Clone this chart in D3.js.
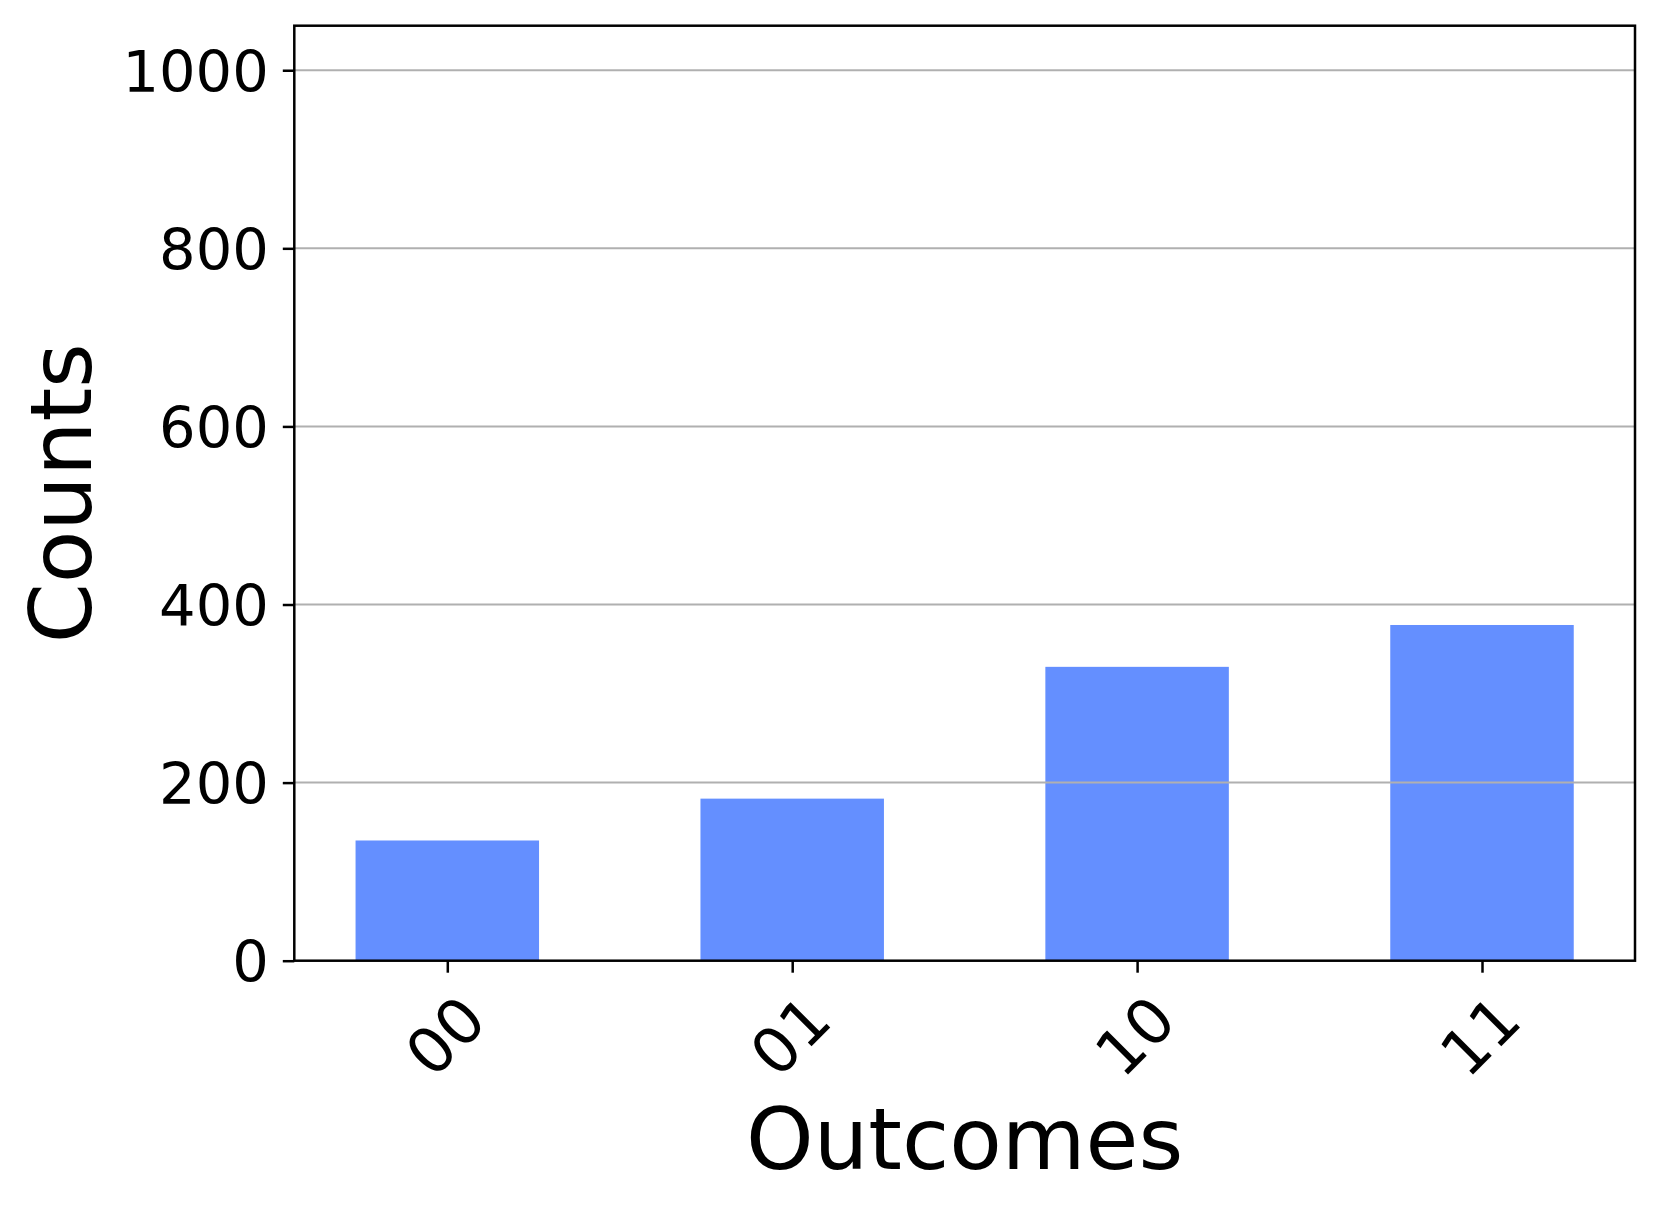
<!DOCTYPE html>
<html>
<head>
<meta charset="utf-8">
<script src="https://cdn.jsdelivr.net/npm/d3@7"></script>
<style>
  html, body { margin: 0; padding: 0; background: #fff; }
  svg { display: block; font-family: "DejaVu Sans", sans-serif; }
</style>
</head>
<body>
<svg id="chart" width="1661" height="1212"></svg>
<script>
const categories = ["00", "01", "10", "11"];
const counts = [135, 182, 330, 377];
const yTicks = [0, 200, 400, 600, 800, 1000];

const W = 1661, H = 1212;
const margin = { left: 294.3, right: W - 1635, top: 25.7, bottom: H - 960.7 };
const svg = d3.select("#chart");

const x = d3.scaleLinear()
  .domain([-0.4436, categories.length - 1 + 0.4436])
  .range([margin.left, W - margin.right]);
const y = d3.scaleLinear()
  .domain([0, 1050])
  .range([H - margin.bottom, margin.top]);
const barW = 0.532;
const yTickFont = 57.5;
const xTickFont = 63;

svg.append("rect").attr("width", W).attr("height", H).attr("fill", "#fff");

// bars
svg.append("g").selectAll("rect").data(counts).join("rect")
  .attr("x", (d, i) => x(i - barW / 2))
  .attr("width", (d, i) => x(i + barW / 2) - x(i - barW / 2))
  .attr("y", d => y(d))
  .attr("height", d => y(0) - y(d))
  .attr("fill", "#648fff");

// grid (drawn over bars)
svg.append("g").selectAll("line").data(yTicks.filter(t => t > 0)).join("line")
  .attr("x1", x.range()[0]).attr("x2", x.range()[1])
  .attr("y1", d => y(d)).attr("y2", d => y(d))
  .attr("stroke", "#b0b0b0").attr("stroke-width", 2);

// frame
svg.append("rect")
  .attr("x", x.range()[0]).attr("y", y.range()[1])
  .attr("width", x.range()[1] - x.range()[0])
  .attr("height", y.range()[0] - y.range()[1])
  .attr("fill", "none").attr("stroke", "#000").attr("stroke-width", 2.5);

// y axis
const yAxis = d3.axisLeft(y).tickValues(yTicks).tickSize(11.5).tickPadding(14)
  .tickFormat(d3.format("d"));
const gy = svg.append("g").attr("transform", `translate(${x.range()[0]},0)`).call(yAxis);
gy.select(".domain").remove();
gy.selectAll(".tick line").attr("stroke", "#000").attr("stroke-width", 2.5);
gy.selectAll(".tick text")
  .attr("font-family", "DejaVu Sans").attr("font-size", yTickFont)
  .attr("fill", "#000").attr("dy", "0.3645em");

// x axis
const labelCY = 1035.5 - y.range()[0];
const xAxis = d3.axisBottom(x).tickValues(d3.range(categories.length)).tickSize(12)
  .tickFormat(i => categories[i]);
const gx = svg.append("g").attr("transform", `translate(0,${y.range()[0]})`).call(xAxis);
gx.select(".domain").remove();
gx.selectAll(".tick line").attr("stroke", "#000").attr("stroke-width", 2.5);
gx.selectAll(".tick text")
  .attr("font-family", "DejaVu Sans").attr("font-size", xTickFont).attr("fill", "#000")
  .attr("text-anchor", "middle")
  .attr("x", -3).attr("y", labelCY)
  .attr("dy", "0.3645em")
  .attr("transform", `rotate(-45, -3, ${labelCY})`);

// axis titles
svg.append("text")
  .attr("x", (x.range()[0] + x.range()[1]) / 2).attr("y", 1169)
  .attr("text-anchor", "middle").attr("font-size", 86).attr("fill", "#000")
  .text("Outcomes");
const cy = (y.range()[0] + y.range()[1]) / 2;
svg.append("text")
  .attr("transform", `translate(90.5,${cy}) rotate(-90)`)
  .attr("text-anchor", "middle").attr("font-size", 86).attr("fill", "#000")
  .text("Counts");
</script>
</body>
</html>
